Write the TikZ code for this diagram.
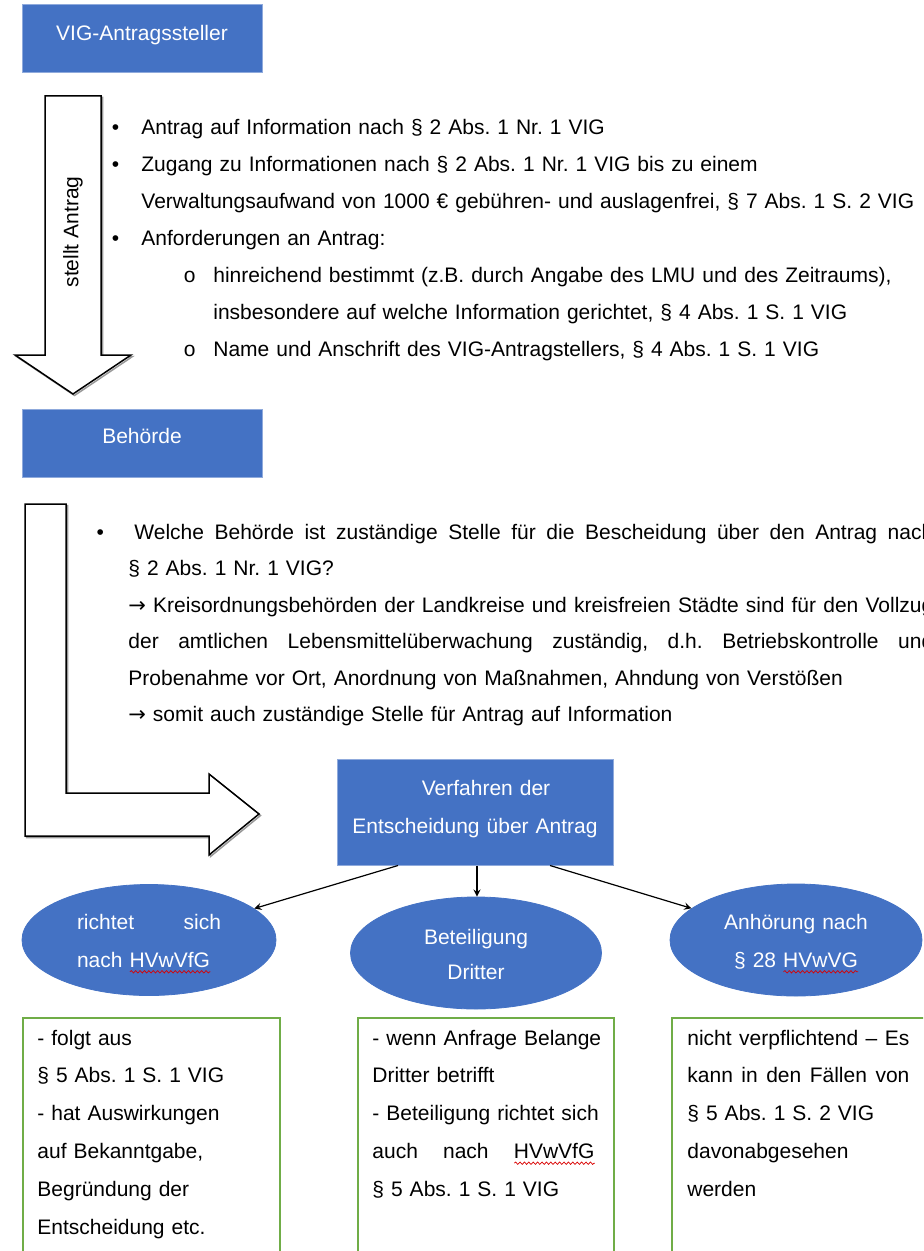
\documentclass[tikz,border=0pt]{standalone}
\usepackage{fontspec}
\setmainfont{Liberation Sans}
\newfontfamily\arrowfont{DejaVu Sans}
\usetikzlibrary{positioning,shapes.geometric,decorations.pathmorphing}
\definecolor{wordblue}{HTML}{4472C4}
\definecolor{blueedge}{HTML}{8FAADC}
\definecolor{notegreen}{HTML}{70AD47}
\newsavebox{\spellbox}
\newcommand{\spellmark}[1]{\sbox{\spellbox}{#1}\rlap{\tikz[baseline=0pt]\draw[red!85!black, line width=0.35pt, decorate,
  decoration={snake, amplitude=0.6pt, segment length=2.2pt}] (0pt,-2.4pt) -- (\the\wd\spellbox,-2.4pt);}\usebox{\spellbox}}
\newcommand{\pointer}{{\arrowfont →}}
\newcommand{\spread}[2]{\leavevmode\hbox to #1{\spaceskip=0.28em plus 1fil\relax #2}}
\frenchspacing

\begin{document}
\begin{tikzpicture}[x=0.5pt, y=-0.5pt,
  every node/.style={inner sep=0pt, font=\fontsize{10.5pt}{18.5pt}\selectfont},
  bluebox/.style={draw=blueedge, fill=wordblue, text=white, line width=0.5pt},
  blueoval/.style={ellipse, draw=wordblue, fill=wordblue, text=white},
  notebox/.style={draw=notegreen, line width=0.75pt, anchor=north west, minimum height=150pt},
  textblock/.style={anchor=base west, align=left, text width=#1},
  listdot/.style={anchor=base east},
  blockarrow/.style={draw=black, line width=0.75pt, line join=miter, fill=white},
  arrowshade/.style={draw=black!40, line width=0.75pt, line join=miter},
  connector/.style={arrows=-stealth, line width=0.6pt}]
\useasboundingbox (0,0) rectangle (923,1251);
\clip (0,0) rectangle (923,1251);

% applicant and request
\node (applicant) [bluebox, minimum width=120pt, minimum height=34pt, text height=8pt, text depth=6pt] at (142,39) {VIG-Antragssteller};
\draw[arrowshade, shift={(1.5,1.5)}] (45,96) -- (101,96) -- (101,355) -- (131,355) -- (73,394) -- (15,355) -- (45,355) -- cycle;
\draw[blockarrow] (45,96) -- (101,96) -- (101,355) -- (131,355) -- (73,394) -- (15,355) -- (45,355) -- cycle;
\node (claim) [rotate=90] at (73,232) {stellt Antrag};

\node (req1) [textblock=390pt] at (141,135) {Antrag auf Information nach § 2 Abs. 1 Nr. 1 VIG};
\node (req2) [textblock=390pt] at (141,172) {Zugang zu Informationen nach § 2 Abs. 1 Nr. 1 VIG bis zu einem\\Verwaltungsaufwand von 1000 € gebühren- und auslagenfrei, § 7 Abs. 1 S. 2 VIG};
\node (req3) [textblock=390pt] at (141,246) {Anforderungen an Antrag:};
\node (req4) [textblock=360pt] at (213,283) {hinreichend bestimmt (z.B. durch Angabe des LMU und des Zeitraums),\\insbesondere auf welche Information gerichtet, § 4 Abs. 1 S. 1 VIG};
\node (req5) [textblock=360pt] at (213,357) {Name und Anschrift des VIG-Antragstellers, § 4 Abs. 1 S. 1 VIG};
\foreach \item in {req1,req2,req3}
  \node (dot\item) [listdot, base left=10.75pt of \item] {•};
\foreach \item in {req4,req5}
  \node (dot\item) [listdot, base left=8.5pt of \item] {o};

% authority
\node (authority) [bluebox, minimum width=120pt, minimum height=34pt, text height=7pt, text depth=7pt] at (142,443) {Behörde};
\draw[arrowshade, shift={(1.5,1.5)}] (25,504) -- (66,504) -- (66,793) -- (209,793) -- (209,774) -- (259,814) -- (209,855) -- (209,836) -- (25,836) -- cycle;
\draw[blockarrow] (25,504) -- (66,504) -- (66,793) -- (209,793) -- (209,774) -- (259,814) -- (209,855) -- (209,836) -- (25,836) -- cycle;

\node (competence) [textblock=402.5pt, font=\fontsize{10.5pt}{18.25pt}\selectfont] at (128,539) {%
  \spread{402.5pt}{\hspace*{3pt}Welche Behörde ist zuständige Stelle für die Bescheidung über den Antrag nach}\\
  § 2 Abs. 1 Nr. 1 VIG?\\
  \spread{402.5pt}{\pointer{} Kreisordnungsbehörden der Landkreise und kreisfreien Städte sind für den Vollzug}\\
  \spread{402.5pt}{der amtlichen Lebensmittelüberwachung zuständig, d.h. Betriebskontrolle und}\\
  Probenahme vor Ort, Anordnung von Maßnahmen, Ahndung von Verstößen\\
  \pointer{} somit auch zuständige Stelle für Antrag auf Information};
\node (dotcompetence) [listdot, base left=11.75pt of competence] {•};

% procedure
\node (procedure) [bluebox, minimum width=138pt, minimum height=53pt, text width=130pt, align=center, text height=8pt, text depth=25pt, font=\fontsize{10.5pt}{19pt}\selectfont] at (475,812) {\hspace*{11pt}Verfahren der\\Entscheidung über Antrag};

\node (rule) [blueoval, minimum width=127pt, minimum height=55.5pt, text width=72pt, align=left, text height=8pt, text depth=19pt, font=\fontsize{10.5pt}{19pt}\selectfont] at (149,940) {\spread{72pt}{richtet sich}\\nach \spellmark{HVwVfG}};
\node (third) [blueoval, minimum width=125.5pt, minimum height=56pt, text width=80pt, align=center, text height=8pt, text depth=17pt, font=\fontsize{10.5pt}{17.5pt}\selectfont] at (476,953) {Beteiligung\\Dritter};
\node (hearing) [blueoval, minimum width=126pt, minimum height=56pt, text width=80pt, align=center, text height=8pt, text depth=19pt, font=\fontsize{10.5pt}{19pt}\selectfont] at (796,940) {Anhörung nach\\§ 28 \spellmark{HVwVG}};

\draw[connector] ([xshift=-38.5pt]procedure.south) -- (rule);
\draw[connector] ([xshift=1pt]procedure.south) -- ([xshift=1pt]procedure.south |- third.north);
\draw[connector] ([xshift=37.5pt]procedure.south) -- (hearing);

% notes
\node (ruleNote) [notebox, minimum width=128.5pt] at (22,1017) {};
\node (thirdNote) [notebox, minimum width=128pt] at (357,1017) {};
\node (hearingNote) [notebox, minimum width=140pt] at (671,1017) {};

\node (ruleText) [textblock=118pt, font=\fontsize{10.5pt}{18.9pt}\selectfont] at (37,1045) {- folgt aus\\§ 5 Abs. 1 S. 1 VIG\\- hat Auswirkungen\\auf Bekanntgabe,\\Begründung der\\Entscheidung etc.};
\node (thirdText) [textblock=118pt, font=\fontsize{10.5pt}{18.9pt}\selectfont] at (372,1045) {- wenn Anfrage Belange\\Dritter betrifft\\- Beteiligung richtet sich\\\spread{111pt}{auch nach \spellmark{HVwVfG}}\\§ 5 Abs. 1 S. 1 VIG};
\node (hearingText) [textblock=118pt, font=\fontsize{10.5pt}{18.9pt}\selectfont] at (687,1045) {\spread{111pt}{nicht verpflichtend – Es}\\\spread{111pt}{kann in den Fällen von}\\§ 5 Abs. 1 S. 2 VIG\\davonabgesehen\\werden};
\end{tikzpicture}
\end{document}
